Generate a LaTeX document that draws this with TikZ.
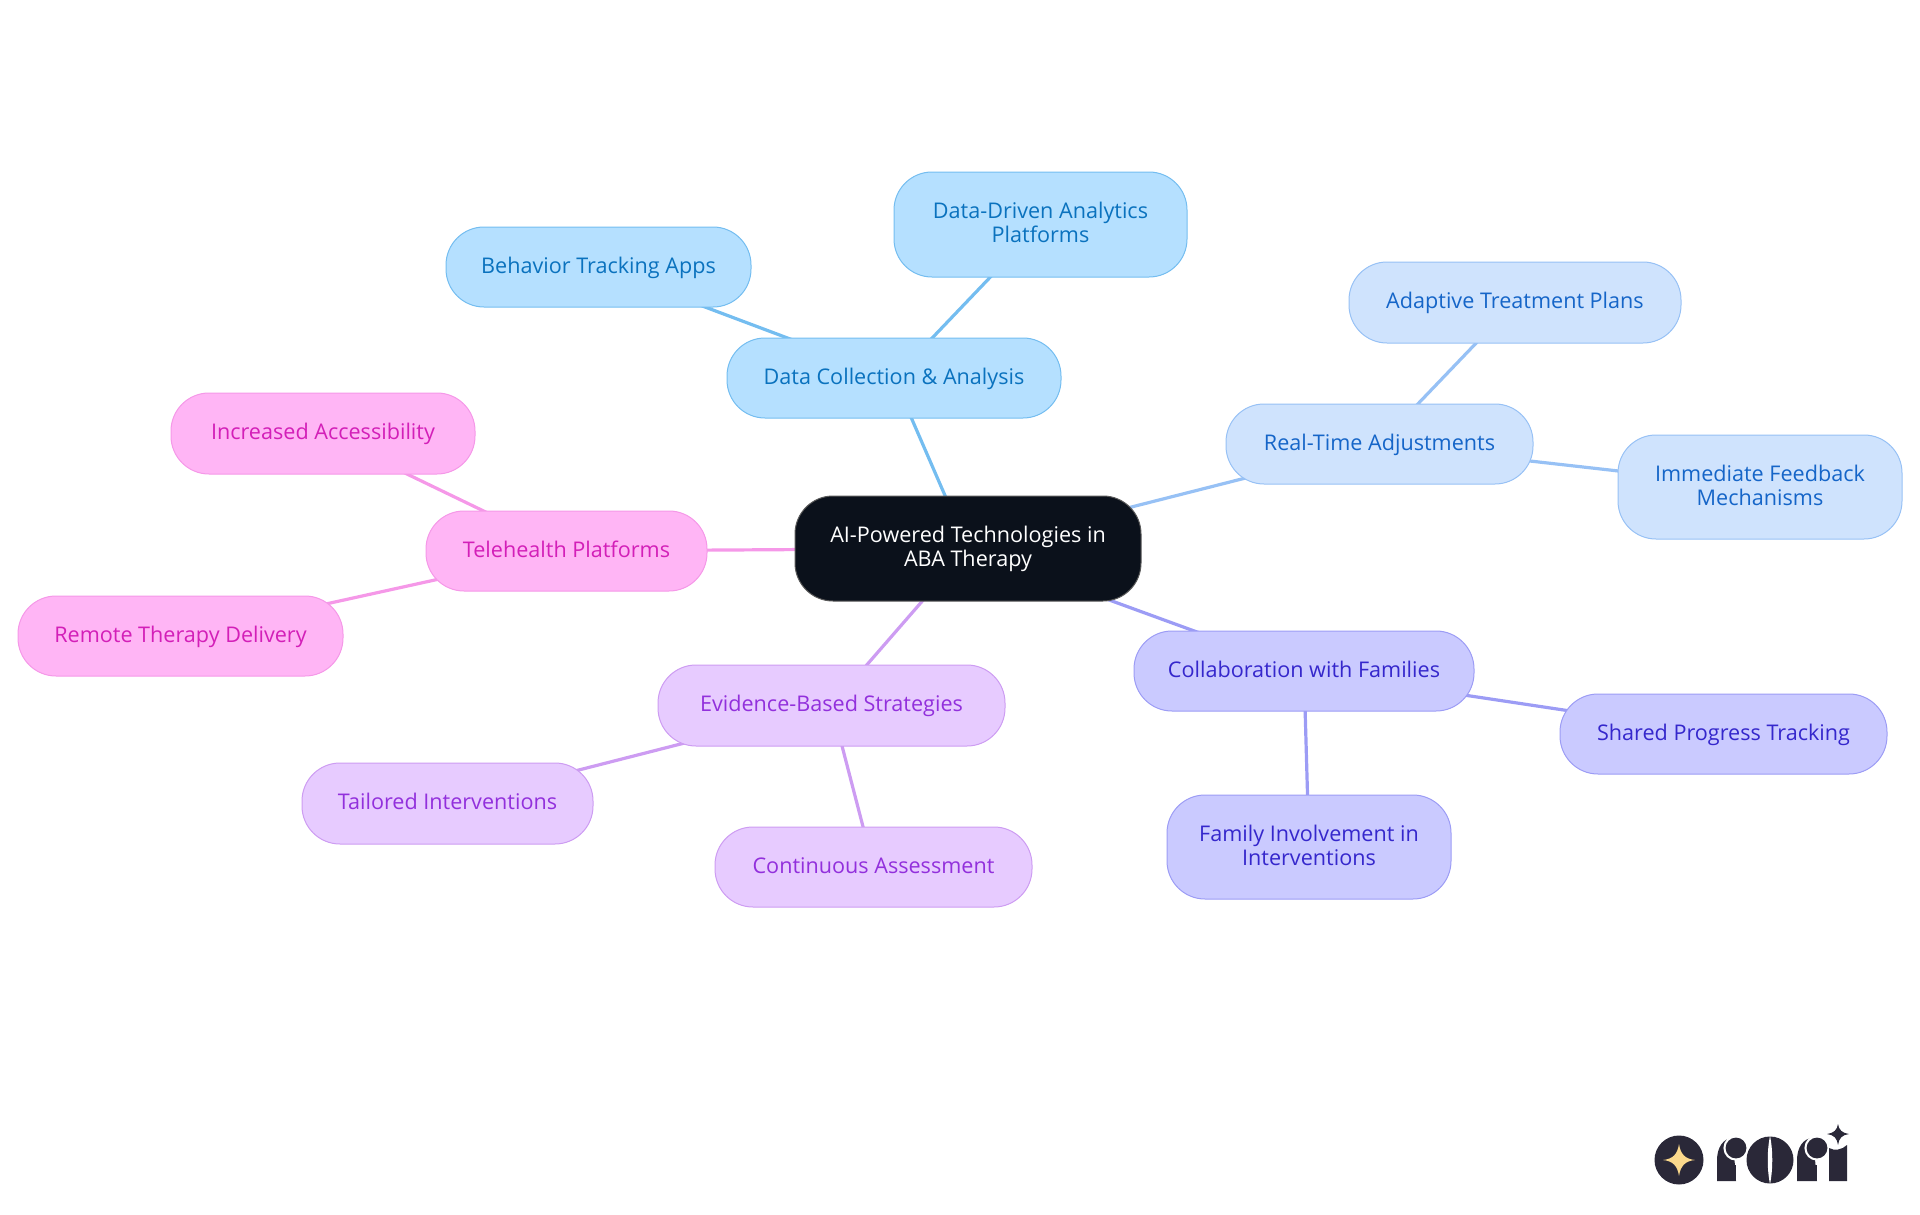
\documentclass[tikz,border=0pt]{standalone}
\usepackage{fontspec}
\setmainfont{Open Sans}
\usetikzlibrary{backgrounds}
\definecolor{rootfill}{HTML}{0B111B}
\definecolor{fa}{HTML}{B5E0FF}\definecolor{da}{HTML}{74BDF0}\definecolor{ta}{HTML}{0A72BE}
\definecolor{fb}{HTML}{CFE3FD}\definecolor{db}{HTML}{97C1F5}\definecolor{tb}{HTML}{1565C8}
\definecolor{fc}{HTML}{CACAFF}\definecolor{dc}{HTML}{9C9CF5}\definecolor{tc}{HTML}{3527CC}
\definecolor{fd}{HTML}{E7CBFF}\definecolor{dd}{HTML}{CD9CF2}\definecolor{td}{HTML}{9230DC}
\definecolor{fe}{HTML}{FFB5F5}\definecolor{de}{HTML}{F598E8}\definecolor{te}{HTML}{D31FB8}
\definecolor{logo}{HTML}{2A2838}\definecolor{logostar}{HTML}{FBD98C}
\tikzset{x=1pt,y=-1pt,
 mm/.style={rounded corners=38pt,draw,line width=1pt,inner sep=0pt,align=center,font=\fontsize{21.6}{24}\selectfont},
 boxa/.style={mm,fill=fa,draw=da,text=ta},
 boxb/.style={mm,fill=fb,draw=db,text=tb},
 boxc/.style={mm,fill=fc,draw=dc,text=tc},
 boxd/.style={mm,fill=fd,draw=dd,text=td},
 boxe/.style={mm,fill=fe,draw=de,text=te},
 rootbox/.style={mm,fill=rootfill,draw=gray!70!black,text=white},
 link/.style={line width=3.2pt}}
\newcommand{\tp}{\rule{0pt}{18pt}}
\newcommand{\bt}{\rule[-5.5pt]{0pt}{5.5pt}}
\newcommand{\bx}[7]{\node[#1,minimum width=#5pt-#3pt,minimum height=#6pt-#4pt] (#2) at ({(#3+#5)/2},{(#4+#6)/2}) {#7};}
\begin{document}
\begin{tikzpicture}
\useasboundingbox (0,0) rectangle (1920,1215);
\bx{rootbox}{root}{795}{496}{1141}{601}{\tp AI-Powered Technologies in\\ABA Therapy\bt}
\bx{boxa}{data}{727}{338}{1061}{418}{\tp Data Collection \& Analysis\bt}
\bx{boxa}{analytics}{894}{172}{1187}{277}{\tp Data-Driven Analytics\\Platforms\bt}
\bx{boxa}{behavior}{446}{227}{751}{307}{\tp Behavior Tracking Apps\bt}
\bx{boxb}{realtime}{1226}{404}{1533}{484}{\tp Real-Time Adjustments\bt}
\bx{boxb}{adaptive}{1349}{262}{1681}{343}{\tp Adaptive Treatment Plans\bt}
\bx{boxb}{feedback}{1618}{435}{1902}{539}{\tp Immediate Feedback\\Mechanisms\bt}
\bx{boxc}{collab}{1134}{631}{1474}{711}{\tp Collaboration with Families\bt}
\bx{boxc}{shared}{1560}{694}{1887}{774}{\tp Shared Progress Tracking\bt}
\bx{boxc}{family}{1167}{795}{1451}{899}{\tp Family Involvement in\\Interventions\bt}
\bx{boxd}{evidence}{658}{665}{1005}{746}{\tp Evidence-Based Strategies\bt}
\bx{boxd}{tailored}{302}{763}{593}{844}{\tp Tailored Interventions\bt}
\bx{boxd}{continuous}{715}{827}{1032}{907}{\tp Continuous Assessment\bt}
\bx{boxe}{tele}{426}{511}{707}{591}{\tp Telehealth Platforms\bt}
\bx{boxe}{access}{171}{393}{475}{474}{\tp Increased Accessibility\bt}
\bx{boxe}{remote}{18}{596}{343}{676}{\tp Remote Therapy Delivery\bt}
\begin{scope}[on background layer]
\draw[link,da] (root.center)--(data.center);
\draw[link,da] (data.center)--(analytics.center);
\draw[link,da] (data.center)--(behavior.center);
\draw[link,db] (root.center)--(realtime.center);
\draw[link,db] (realtime.center)--(adaptive.center);
\draw[link,db] (realtime.center)--(feedback.center);
\draw[link,dc] (root.center)--(collab.center);
\draw[link,dc] (collab.center)--(shared.center);
\draw[link,dc] (collab.center)--(family.center);
\draw[link,dd] (root.center)--(evidence.center);
\draw[link,dd] (evidence.center)--(tailored.center);
\draw[link,dd] (evidence.center)--(continuous.center);
\draw[link,de] (root.center)--(tele.center);
\draw[link,de] (tele.center)--(access.center);
\draw[link,de] (tele.center)--(remote.center);
\end{scope}
% logo
\fill[logo] (1679,1160) circle (24.5);
\fill[logostar] (1679,1144) .. controls (1680.5,1154) and (1685,1159) .. (1695,1160) .. controls (1685,1161) and (1680.5,1166) .. (1679,1176) .. controls (1677.5,1166) and (1673,1161) .. (1663,1160) .. controls (1673,1159) and (1677.5,1154) .. (1679,1144) -- cycle;
% first r
\fill[logo] (1717,1181) -- (1717,1160) .. controls (1717,1148) and (1723,1138) .. (1733,1138) -- (1736,1181) -- cycle;
\fill[logo] (1725,1165) rectangle (1736,1181);
\fill[white] (1736,1148) circle (12.6);
\fill[logo] (1736,1148) circle (10.4);
% o
\fill[logo] (1770,1160) circle (23.5);
\fill[white] (1770,1136) .. controls (1767,1150) and (1767,1170) .. (1770,1184) .. controls (1773,1170) and (1773,1150) .. (1770,1136) -- cycle;
% second r
\fill[logo] (1797,1181) -- (1797,1160) .. controls (1797,1148) and (1803,1138) .. (1813,1138) -- (1817,1181) -- cycle;
\fill[logo] (1805,1165) rectangle (1817,1181);
\fill[white] (1817,1148) circle (12.6);
\fill[logo] (1817,1148) circle (10.4);
% i and star
\fill[logo] (1829,1181) -- (1829,1148) .. controls (1834,1151) and (1842,1150) .. (1847,1145) -- (1847,1181) -- cycle;
\fill[logo] (1838,1124) .. controls (1839,1130) and (1842,1133) .. (1849,1134) .. controls (1842,1135) and (1839,1138) .. (1838,1145) .. controls (1837,1138) and (1834,1135) .. (1827,1134) .. controls (1834,1133) and (1837,1130) .. (1838,1124) -- cycle;
\end{tikzpicture}
\end{document}
